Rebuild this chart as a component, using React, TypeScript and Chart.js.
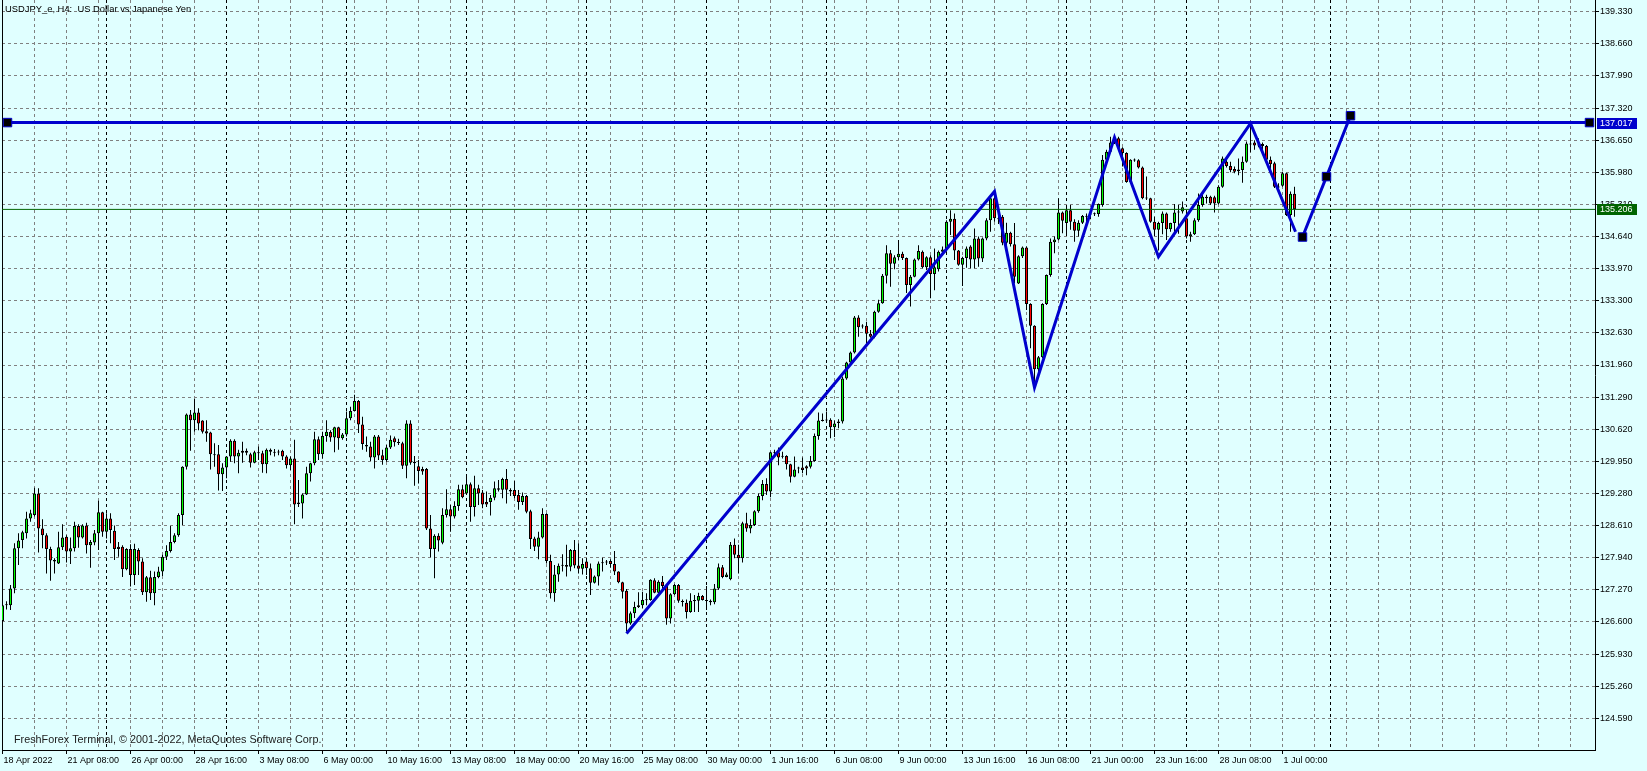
import React, { useEffect, useRef } from "react";
import { Chart, registerables } from "chart.js";

Chart.register(...registerables);

// ---------- DATA (USDJPY_e, H4) ----------
const TITLE = "USDJPY_e, H4:  US Dollar vs Japanese Yen";
const COPYRIGHT = "FreshForex Terminal, \u00A9 2001-2022, MetaQuotes Software Corp.";

const OPEN = [
  126.62,126.95,126.95,127.30,128.14,128.31,128.45,128.76,128.83,129.28,
  128.55,128.41,128.12,127.89,127.82,128.16,128.38,128.07,128.14,128.60,
  128.36,128.61,128.20,128.26,128.45,128.89,128.48,128.76,128.50,128.17,
  128.17,127.70,128.12,127.58,128.10,127.86,127.22,127.53,127.20,127.54,
  127.65,127.96,128.08,128.27,128.41,128.83,129.84,130.93,130.81,130.97,
  130.80,130.58,130.55,130.10,130.10,129.68,129.82,130.05,130.38,130.05,
  130.13,130.17,130.10,129.92,130.14,130.12,129.89,130.19,130.13,130.15,
  130.17,130.05,129.87,130.01,129.09,129.07,129.26,129.70,129.91,130.41,
  130.10,130.48,130.56,130.45,130.66,130.43,130.51,130.85,131.00,131.21,
  130.72,130.29,130.26,130.03,130.47,130.08,129.98,130.24,130.43,130.35,
  130.33,129.86,130.74,129.94,129.85,129.79,129.79,128.55,128.12,128.40,
  128.25,128.83,128.95,128.80,129.02,129.37,129.28,129.47,129.00,129.39,
  129.30,129.10,129.10,129.19,129.39,129.36,129.58,129.35,129.35,129.25,
  129.10,129.23,128.91,128.34,128.17,128.36,128.85,127.87,127.20,127.59,
  127.79,127.79,127.75,128.10,127.78,127.71,127.86,127.72,127.42,127.55,
  127.83,127.84,127.87,127.81,127.65,127.43,127.25,126.57,126.78,126.91,
  126.95,127.06,127.06,127.47,127.21,127.44,127.35,126.67,127.18,127.37,
  127.03,127.00,126.81,127.04,127.04,127.14,127.06,127.04,127.01,127.30,
  127.74,127.54,127.49,128.21,128.00,127.93,128.66,128.55,128.62,128.91,
  129.23,129.48,129.32,130.14,130.14,130.05,130.06,129.89,129.63,129.80,
  129.82,129.85,129.84,129.96,130.48,130.80,130.81,130.82,130.66,130.75,
  130.78,131.68,132.01,132.22,132.95,132.78,132.78,132.61,132.55,133.07,
  133.25,133.82,134.29,134.07,134.21,134.28,134.19,133.63,133.80,134.16,
  134.32,134.00,134.21,133.86,133.96,134.32,134.37,134.95,135.01,134.35,
  134.05,134.19,134.43,134.16,134.60,134.18,134.60,134.98,135.44,135.02,
  135.05,134.51,134.72,134.48,133.66,134.23,134.41,133.23,132.78,131.87,
  132.12,133.23,133.84,134.52,134.58,135.14,134.92,135.19,134.95,134.76,
  134.93,135.07,135.10,135.11,135.11,135.30,136.24,136.41,136.60,136.69,
  136.48,136.38,135.78,136.24,136.23,136.08,135.44,135.44,134.95,134.78,
  134.92,135.12,134.79,134.92,135.14,135.16,135.02,134.64,134.69,134.98,
  135.30,135.47,135.47,135.46,135.33,135.68,136.20,136.11,136.05,136.00,
  136.03,136.20,136.58,136.60,136.54,136.57,136.53,136.24,136.17,135.68,
  135.70,135.96,135.09,135.53,
];

const HIGH = [
  127.00,127.03,127.37,128.24,128.45,128.50,128.90,128.94,129.40,129.39,
  128.74,128.45,128.17,127.93,128.48,128.64,128.41,128.36,128.69,128.64,
  128.64,128.67,128.31,128.52,129.13,128.90,128.87,128.87,128.61,128.27,
  128.20,128.14,128.22,128.23,128.14,127.93,127.56,127.67,127.65,127.75,
  128.00,128.20,128.60,128.45,128.87,129.85,130.95,131.02,131.25,131.06,
  130.81,130.81,130.57,130.33,130.29,129.91,130.06,130.41,130.41,130.19,
  130.36,130.22,130.13,130.17,130.26,130.17,130.22,130.22,130.21,130.19,
  130.19,130.08,130.05,130.40,129.56,129.28,129.84,129.92,130.57,130.47,
  130.57,130.81,130.60,130.67,130.67,130.54,130.99,131.09,131.34,131.23,
  130.88,130.47,130.36,130.50,130.50,130.19,130.29,130.49,130.47,130.42,
  130.36,130.81,130.81,130.06,129.98,129.84,129.81,128.83,128.43,128.45,
  128.97,129.37,129.04,129.12,129.46,129.46,129.65,129.51,129.65,129.46,
  129.35,129.32,129.25,129.53,129.56,129.61,129.79,129.39,129.54,129.35,
  129.30,129.25,128.94,128.38,128.48,128.97,128.87,128.00,127.79,127.82,
  128.01,128.21,128.12,128.31,128.24,127.93,127.89,127.82,127.57,127.86,
  127.94,127.89,127.91,128.08,127.66,127.44,127.29,126.82,127.02,127.22,
  127.23,127.20,127.49,127.51,127.47,127.56,127.37,127.20,127.39,127.39,
  127.07,127.07,127.20,127.16,127.21,127.16,127.35,127.07,127.39,127.82,
  127.79,127.63,128.27,128.34,128.21,128.69,128.88,128.74,128.93,129.28,
  129.56,129.60,130.15,130.19,130.24,130.15,130.08,129.90,130.05,129.84,
  130.03,129.87,130.06,130.53,130.97,130.95,130.99,130.85,130.80,130.83,
  131.72,132.03,132.24,132.98,133.00,132.81,132.86,132.69,133.09,133.32,
  133.86,134.46,134.36,134.25,134.57,134.32,134.20,133.84,134.18,134.46,
  134.35,134.23,134.25,134.39,134.35,134.43,134.98,135.19,135.12,134.36,
  134.22,134.43,134.46,134.81,134.64,134.62,135.02,135.47,135.58,135.08,
  135.09,134.93,134.74,134.92,134.25,134.43,134.43,133.25,132.79,132.15,
  133.25,133.85,134.60,134.64,135.44,135.16,135.30,135.30,135.00,134.98,
  135.09,135.12,135.16,135.14,135.33,136.34,136.45,136.72,136.74,136.72,
  136.50,136.40,136.25,136.27,136.25,136.10,135.89,135.45,135.05,134.95,
  135.16,135.14,134.93,135.32,135.30,135.37,135.19,134.74,135.02,135.54,
  135.51,135.51,135.49,135.49,135.71,136.31,136.24,136.20,136.10,136.27,
  136.31,136.62,137.00,136.65,136.69,136.60,136.55,136.31,136.20,135.75,
  135.99,135.97,135.58,135.68,
];

const LOW = [
  126.55,126.86,126.85,127.20,127.79,128.14,128.34,128.69,128.80,128.05,
  128.14,127.61,127.46,127.61,127.81,128.10,127.84,127.81,128.07,128.15,
  128.34,128.03,127.73,128.20,128.10,128.38,128.34,128.24,127.89,127.96,
  127.54,127.68,127.34,127.37,127.58,127.16,127.02,127.06,126.95,127.51,
  127.56,127.89,128.05,128.24,128.38,128.62,129.78,130.17,130.57,130.60,
  130.53,130.36,129.78,129.84,129.34,129.33,129.60,129.94,129.91,129.70,
  129.92,130.08,129.82,129.91,129.98,129.71,129.70,130.08,130.05,130.08,
  129.98,129.80,129.77,128.64,129.00,128.76,129.25,129.53,129.87,129.98,
  130.01,130.36,130.36,130.14,130.19,130.40,130.47,130.81,130.99,130.54,
  130.19,130.15,129.96,129.80,129.98,129.88,129.94,130.21,130.26,130.29,
  129.79,129.60,129.88,129.44,129.49,129.67,128.52,127.95,127.51,128.07,
  128.22,128.78,128.48,128.76,128.92,129.18,129.25,128.69,128.80,129.04,
  128.97,129.00,128.82,129.14,129.32,129.18,129.07,129.23,129.18,128.94,
  129.04,128.87,128.12,128.08,127.91,128.34,127.82,127.09,127.02,127.44,
  127.65,127.55,127.66,127.72,127.61,127.59,127.58,127.16,127.40,127.36,
  127.65,127.79,127.73,127.58,127.41,127.09,126.40,126.54,126.68,126.89,
  126.89,126.95,127.04,127.20,127.20,127.30,126.54,126.57,127.16,127.00,
  126.92,126.67,126.79,126.81,126.81,127.05,126.85,126.95,126.97,127.27,
  127.51,127.53,127.47,127.93,127.61,127.84,128.48,128.45,128.60,128.88,
  129.14,129.25,129.20,130.05,129.87,130.01,129.78,129.51,129.62,129.70,
  129.70,129.66,129.80,129.94,130.40,130.78,130.76,130.43,130.46,130.64,
  130.74,131.65,131.96,132.20,132.55,132.72,132.41,132.53,132.52,133.05,
  133.24,133.66,133.59,133.96,134.15,134.15,133.46,133.18,133.79,134.14,
  133.98,133.94,133.35,133.52,133.91,134.29,134.32,134.67,134.15,134.03,
  133.61,133.99,133.98,133.98,134.01,134.11,134.56,134.74,134.95,134.90,
  134.46,134.43,134.43,133.66,133.65,134.19,133.11,132.31,131.58,131.82,
  132.10,133.21,133.80,134.29,134.56,134.71,134.65,134.78,134.53,134.64,
  134.90,134.92,135.00,135.07,135.05,135.26,136.20,136.38,136.57,136.46,
  136.10,135.76,135.75,136.20,136.06,135.42,135.40,134.93,134.65,134.35,
  134.69,134.57,134.74,134.71,134.70,135.12,134.60,134.53,134.67,134.95,
  135.26,135.33,135.30,135.14,135.31,135.66,136.08,135.98,135.96,135.92,
  135.76,136.18,136.40,136.45,136.50,136.40,136.20,136.03,135.65,135.58,
  135.68,135.07,134.74,135.05,
];

const CLOSE = [
  126.95,126.97,127.30,128.14,128.30,128.47,128.76,128.87,129.28,128.55,
  128.41,128.12,127.88,127.86,128.16,128.36,128.07,128.14,128.60,128.36,
  128.61,128.20,128.27,128.45,128.89,128.48,128.76,128.52,128.12,128.12,
  127.70,128.12,127.58,128.12,127.86,127.22,127.53,127.20,127.54,127.65,
  127.96,128.08,128.27,128.41,128.83,129.84,130.93,130.81,130.97,130.74,
  130.57,130.53,130.10,130.08,129.68,129.82,130.05,130.38,130.05,130.13,
  130.17,130.13,129.92,130.14,130.12,129.89,130.19,130.15,130.15,130.14,
  130.05,129.87,130.01,129.05,129.06,129.26,129.70,129.91,130.41,130.10,
  130.48,130.57,130.45,130.66,130.43,130.51,130.85,131.00,131.21,130.72,
  130.31,130.26,130.03,130.47,130.07,129.98,130.24,130.40,130.35,130.34,
  129.86,130.74,129.92,129.91,129.75,129.74,128.55,128.12,128.40,128.30,
  128.83,128.95,128.80,129.02,129.37,129.20,129.47,129.00,129.39,129.28,
  129.05,129.05,129.19,129.39,129.36,129.58,129.36,129.32,129.23,129.10,
  129.23,128.90,128.33,128.17,128.36,128.85,127.87,127.20,127.59,127.77,
  127.78,127.75,128.10,127.78,127.71,127.81,127.72,127.42,127.55,127.82,
  127.84,127.86,127.81,127.65,127.43,127.23,126.57,126.78,126.91,126.95,
  127.06,127.07,127.48,127.21,127.44,127.35,126.67,127.18,127.37,127.04,
  127.02,126.81,127.04,127.05,127.14,127.06,127.04,127.01,127.30,127.74,
  127.54,127.59,128.21,128.00,127.93,128.66,128.55,128.62,128.91,129.23,
  129.48,129.32,130.14,130.12,130.03,130.06,129.89,129.63,129.78,129.82,
  129.77,129.80,129.96,130.48,130.80,130.81,130.82,130.66,130.74,130.78,
  131.68,132.01,132.22,132.95,132.75,132.77,132.61,132.55,133.07,133.25,
  133.82,134.29,134.07,134.21,134.28,134.19,133.63,133.80,134.16,134.34,
  134.00,134.21,133.86,134.00,134.32,134.37,134.95,135.01,134.35,134.05,
  134.19,134.39,134.16,134.60,134.18,134.60,134.98,135.44,135.02,135.00,
  134.51,134.72,134.48,133.80,134.23,134.41,133.23,132.78,131.87,132.12,
  133.23,133.84,134.53,134.58,135.14,134.97,135.19,134.95,134.76,134.93,
  135.07,135.06,135.12,135.12,135.32,136.24,136.41,136.60,136.70,136.48,
  136.38,135.78,136.24,136.23,136.08,135.44,135.45,134.95,134.78,134.92,
  135.12,134.79,134.92,135.14,135.16,135.25,134.64,134.69,134.98,135.30,
  135.47,135.44,135.33,135.33,135.68,136.27,136.11,136.02,135.99,136.04,
  136.20,136.58,136.56,136.54,136.56,136.53,136.24,136.15,135.68,135.67,
  135.96,135.09,135.53,135.21,
];

// one label every 16 H4 bars, starting at bar 0
const TIME_LABELS = [
  "18 Apr 2022", "21 Apr 08:00", "26 Apr 00:00", "28 Apr 16:00", "3 May 08:00",
  "6 May 00:00", "10 May 16:00", "13 May 08:00", "18 May 00:00", "20 May 16:00",
  "25 May 08:00", "30 May 00:00", "1 Jun 16:00", "6 Jun 08:00", "9 Jun 00:00",
  "13 Jun 16:00", "16 Jun 08:00", "21 Jun 00:00", "23 Jun 16:00", "28 Jun 08:00",
  "1 Jul 00:00",
];
const LABEL_STEP = 16;
const GRID_STEP = 8;

const PRICE_TICKS = [
  139.33, 138.66, 137.99, 137.32, 136.65, 135.98, 135.31, 134.64, 133.97, 133.30,
  132.63, 131.96, 131.29, 130.62, 129.95, 129.28, 128.61, 127.94, 127.27, 126.60,
  125.93, 125.26, 124.59,
];

// week separators (bar index of Monday 00:00)
const SEPARATORS = [26, 56, 86, 116, 146, 176, 206, 236, 266, 296, 332];

// zigzag drawing (bar index, price)
const ZIGZAG_X = [156, 248, 258, 278, 289, 312, 323.25];
const ZIGZAG_Y = [126.36, 135.58, 131.49, 136.71, 134.22, 137.0, 134.74];
// projection line with square anchors
const PROJ_X = [325, 331, 337];
const PROJ_Y = [134.63, 135.89, 137.16];
// horizontal level
const LEVEL = 137.017;
const LEVEL_X = [1.25, 396.75];
// current bid
const BID = 135.206;

// view range
const X_MIN = -0.125;
const X_MAX = 398.125;
const Y_MIN = 123.929;
const Y_MAX = 139.574;

// ---------- STYLE ----------
const BG = "#E0FFFF";
const BLUE = "#0000CD";
const BID_GREEN = "#006400";
const GRID = "#808080";
const BULL = "#00FF00";
const BEAR = "#FF0000";
const FONT = "'Liberation Sans', Arial, sans-serif";

const isLabelTick = (v: number) =>
  v % LABEL_STEP === 0 && v / LABEL_STEP < TIME_LABELS.length;

const decorPlugin = {
  id: "mt4decor",
  beforeDatasetsDraw(chart: any) {
    const { ctx, chartArea: a } = chart;
    ctx.save();
    ctx.fillStyle = "#000";
    ctx.fillRect(Math.round(a.left), a.top, 1, a.bottom - a.top);
    ctx.restore();
  },
  afterDraw(chart: any) {
    const { ctx, chartArea: a, scales } = chart;
    const ys = scales.y;
    ctx.save();
    ctx.textAlign = "left";
    ctx.textBaseline = "middle";
    ctx.fillStyle = "#000";
    ctx.font = `9.4px ${FONT}`;
    ctx.fillText(TITLE, a.left + 3, a.top + 9);
    ctx.fillStyle = "#202020";
    ctx.font = `10.8px ${FONT}`;
    ctx.fillText(COPYRIGHT, a.left + 12, a.bottom - 10);
    const boxes: [number, string][] = [
      [LEVEL, BLUE],
      [BID, BID_GREEN],
    ];
    ctx.font = `9px ${FONT}`;
    for (const [val, col] of boxes) {
      const py = Math.round(ys.getPixelForValue(val));
      ctx.fillStyle = col;
      ctx.fillRect(a.right + 2, py - 5, 40, 11);
      ctx.fillStyle = "#FFFFFF";
      ctx.fillText(val.toFixed(3), a.right + 5, py + 0.5);
    }
    ctx.restore();
  },
};

function buildConfig(): any {
  const MIN_BODY = 0.021;
  const wickData = HIGH.map((h, i) => ({ x: i, y: [LOW[i], h] }));
  const bodyData = OPEN.map((o, i) => {
    let lo = Math.min(o, CLOSE[i]);
    let hi = Math.max(o, CLOSE[i]);
    if (hi - lo < MIN_BODY) {
      const m = (hi + lo) / 2;
      lo = m - MIN_BODY / 2;
      hi = m + MIN_BODY / 2;
    }
    return { x: i, y: [lo, hi] };
  });
  const bodyColors = OPEN.map((o, i) => (CLOSE[i] >= o ? BULL : BEAR));
  const zig = ZIGZAG_X.map((x, i) => ({ x, y: ZIGZAG_Y[i] }));
  const proj = PROJ_X.map((x, i) => ({ x, y: PROJ_Y[i] }));
  const level = LEVEL_X.map((x) => ({ x, y: LEVEL }));

  return {
    type: "bar",
    data: {
      datasets: [
        {
          type: "bar", label: "wicks", data: wickData, backgroundColor: "#000",
          borderWidth: 0, barThickness: 1, grouped: false, inflateAmount: 0, order: 6,
          xAxisID: "x", yAxisID: "y",
        },
        {
          type: "bar", label: "bodies", data: bodyData, backgroundColor: bodyColors,
          borderColor: "#000", borderWidth: 1, borderSkipped: false, barThickness: 3,
          grouped: false, inflateAmount: 0, order: 5, xAxisID: "x", yAxisID: "y",
        },
        {
          type: "line", label: "bid", data: [{ x: X_MIN, y: BID }, { x: X_MAX, y: BID }],
          borderColor: BID_GREEN, borderWidth: 1, pointRadius: 0, order: 4,
          xAxisID: "x", yAxisID: "y",
        },
        {
          type: "line", label: "zigzag", data: zig, borderColor: BLUE, borderWidth: 3,
          pointRadius: 0, order: 3, xAxisID: "x", yAxisID: "y",
        },
        {
          type: "line", label: "projection", data: proj, borderColor: BLUE, borderWidth: 3,
          pointRadius: 6, pointStyle: "rect", pointBackgroundColor: "#000",
          pointBorderColor: BLUE, pointBorderWidth: 1, order: 2, xAxisID: "x", yAxisID: "y",
        },
        {
          type: "line", label: "level", data: level, borderColor: BLUE, borderWidth: 3,
          pointRadius: 6, pointStyle: "rect", pointBackgroundColor: "#000",
          pointBorderColor: BLUE, pointBorderWidth: 1, order: 1, xAxisID: "x", yAxisID: "y",
        },
      ],
    },
    options: {
      responsive: false,
      animation: false,
      devicePixelRatio: 1,
      events: [],
      layout: { autoPadding: false, padding: { left: 2, top: 0, right: 0, bottom: 0 } },
      plugins: { legend: { display: false }, tooltip: { enabled: false } },
      scales: {
        x: {
          type: "linear", position: "bottom", min: X_MIN, max: X_MAX, offset: false,
          afterBuildTicks: (s: any) => {
            const t: any[] = [];
            for (let v = 0; v <= X_MAX; v += GRID_STEP) t.push({ value: v });
            s.ticks = t;
          },
          afterFit: (s: any) => { s.height = 21; s.paddingLeft = 0; s.paddingRight = 0; },
          ticks: {
            autoSkip: false, maxRotation: 0, minRotation: 0, align: "start",
            labelOffset: 1, padding: 1, color: "#000",
            font: { family: FONT, size: 9 },
            callback: (v: any) => (isLabelTick(v) ? TIME_LABELS[v / LABEL_STEP] : ""),
          },
          grid: {
            color: GRID, lineWidth: 1, offset: false, drawTicks: true, tickLength: 4, tickWidth: 1,
            tickColor: (c: any) => (c.tick && isLabelTick(c.tick.value) ? "#000" : "rgba(0,0,0,0)"),
          },
          border: { display: true, color: "#000", width: 1, dash: [3, 3] },
        },
        xSep: {
          type: "linear", axis: "x", position: "bottom", min: X_MIN, max: X_MAX, offset: false,
          display: true,
          afterBuildTicks: (s: any) => { s.ticks = SEPARATORS.map((v) => ({ value: v })); },
          afterFit: (s: any) => { s.height = 0; s.paddingLeft = 0; s.paddingRight = 0; },
          ticks: { display: false },
          grid: { color: "#000", lineWidth: 1, drawTicks: false, offset: false },
          border: { display: false, dash: [3, 3] },
        },
        y: {
          type: "linear", position: "right", min: Y_MIN, max: Y_MAX, beginAtZero: false,
          afterBuildTicks: (s: any) => { s.ticks = PRICE_TICKS.map((v) => ({ value: v })); },
          afterFit: (s: any) => { s.width = 52; s.paddingTop = 0; s.paddingBottom = 0; },
          ticks: {
            autoSkip: false, padding: 1, color: "#000", font: { family: FONT, size: 9 },
            callback: (v: any) => Number(v).toFixed(3),
          },
          grid: { color: GRID, lineWidth: 1, tickLength: 4, tickColor: "#000", tickWidth: 1 },
          border: { display: true, color: "#000", width: 1, dash: [3, 3] },
        },
      },
    },
    plugins: [decorPlugin],
  };
}

export default function App() {
  const ref = useRef<HTMLCanvasElement>(null);
  useEffect(() => {
    document.body.style.margin = "0";
    document.body.style.background = BG;
    const chart = new Chart(ref.current as HTMLCanvasElement, buildConfig());
    return () => chart.destroy();
  }, []);
  return (
    <div style={{ width: 1647, height: 771, background: BG, position: "relative" }}>
      <canvas ref={ref} width={1647} height={771} style={{ display: "block", width: 1647, height: 771 }} />
    </div>
  );
}
